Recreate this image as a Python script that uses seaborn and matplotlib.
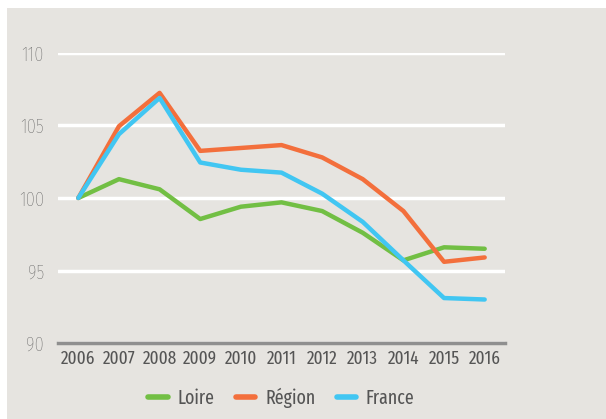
import pandas as pd
import matplotlib.pyplot as plt
import seaborn as sns
from matplotlib.patches import Rectangle
from matplotlib import font_manager

annees = [2006, 2007, 2008, 2009, 2010, 2011, 2012, 2013, 2014, 2015, 2016]
loire = [100, 101.3, 100.6, 98.55, 99.4, 99.7, 99.1, 97.6, 95.7, 96.6, 96.5]
region = [100, 104.95, 107.25, 103.25, 103.45, 103.65, 102.8, 101.3, 99.1, 95.6, 95.9]
france = [100, 104.4, 106.9, 102.45, 101.95, 101.75, 100.3, 98.35, 95.7, 93.1, 93.0]
series = ['Loire', 'Région', 'France']
couleurs = ['#72bf44', '#f36f3c', '#41c6f2']

df = pd.DataFrame({'annee': annees, 'Loire': loire, 'Région': region, 'France': france})
df_long = df.melt(id_vars='annee', value_vars=series, var_name='serie', value_name='indice')

sns.set_theme(style="white")
# police étroite proche de la police d'origine, si disponible
noms = {f.name for f in font_manager.fontManager.ttflist}
candidates = ['Fira Sans Extra Condensed', 'Barlow Condensed', 'PT Sans Narrow',
              'Roboto Condensed', 'Open Sans Condensed', 'Liberation Sans Narrow']
police = next((c for c in candidates if c in noms), 'DejaVu Sans')
plt.rcParams['font.family'] = [police, 'DejaVu Sans']
taille = 13.5 if police != 'DejaVu Sans' else 9
texte = '#555555'
fond = '#e6e4e0'

fig = plt.figure(figsize=(6.06, 4.19), dpi=100)
fig.patch.set_facecolor('white')
fig.add_artist(Rectangle((7 / 606, 0), 1, (419 - 8) / 419, transform=fig.transFigure,
                         facecolor=fond, edgecolor='none', zorder=-10))

ax = fig.add_axes([58 / 606, 1 - 343 / 419, (505 - 58) / 606, (343 - 53) / 419])
ax.set_facecolor('none')

sns.lineplot(data=df_long, x='annee', y='indice', hue='serie', hue_order=series,
             palette=couleurs, linewidth=3.2, ax=ax, legend=False, zorder=3)

ax.set_xlim(2005.5, 2016.5)
ax.set_ylim(90, 110)
ax.set_yticks([90, 95, 100, 105, 110])
ax.set_xticks(annees)
ax.yaxis.grid(True, color='white', linewidth=2.5)
ax.set_axisbelow(True)
for s in ['top', 'right', 'left']:
    ax.spines[s].set_visible(False)
ax.spines['bottom'].set_color('#8f8f8f')
ax.spines['bottom'].set_linewidth(2.5)
ax.tick_params(axis='both', length=0)
ax.tick_params(axis='y', pad=10, labelsize=taille + 1, labelcolor='#5c5c5c')
ax.tick_params(axis='x', pad=5, labelsize=taille, labelcolor=texte)
for lab in ax.get_yticklabels():
    lab.set_fontweight('light')
ax.set_xlabel('')
ax.set_ylabel('')

poignees = [plt.Line2D([], [], color=c, linewidth=4) for c in couleurs]
ax.legend(poignees, series, loc='center', bbox_to_anchor=(0.5, -0.19), ncol=3,
          frameon=False, fontsize=taille + 0.5, labelcolor=texte, handlelength=1.0,
          handletextpad=0.5, columnspacing=1.1)

fig.savefig('out.png', dpi=100)
